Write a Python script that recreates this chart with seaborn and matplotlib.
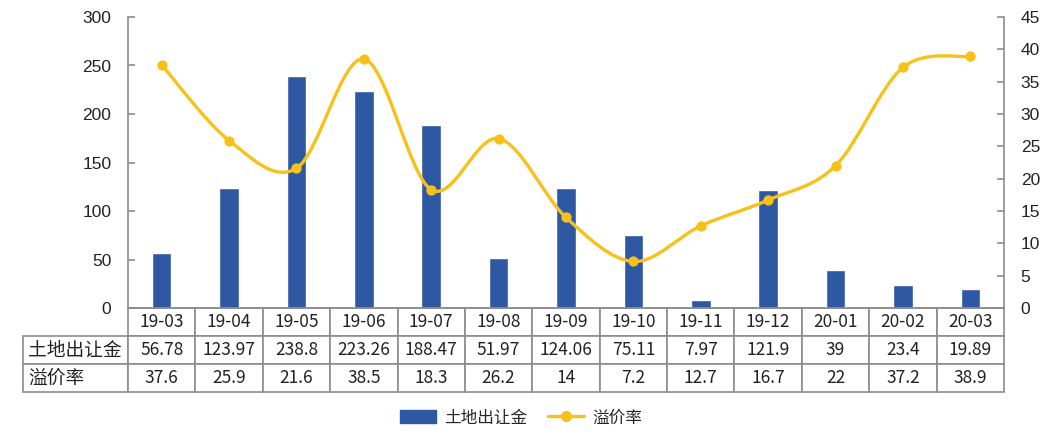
import numpy as np
import matplotlib
matplotlib.use('Agg')
import matplotlib.pyplot as plt
from matplotlib.path import Path
from matplotlib.patches import PathPatch, Patch
from matplotlib.lines import Line2D
from matplotlib.table import Table
import seaborn as sns

# data
months = ['19-03', '19-04', '19-05', '19-06', '19-07', '19-08', '19-09',
          '19-10', '19-11', '19-12', '20-01', '20-02', '20-03']
land_fee = [56.78, 123.97, 238.8, 223.26, 188.47, 51.97, 124.06,
            75.11, 7.97, 121.9, 39, 23.4, 19.89]
premium = [37.6, 25.9, 21.6, 38.5, 18.3, 26.2, 14, 7.2, 12.7, 16.7, 22, 37.2, 38.9]
row_names = ['土地出让金', '溢价率']

BLUE = '#2F58A3'
YELLOW = '#F7C11A'
GRAY = '#8C8C8C'
CJK = ['Noto Sans CJK SC', 'DejaVu Sans']

sns.set_style('white')
plt.rcParams['font.family'] = ['Liberation Sans', 'Noto Sans CJK SC']

fig = plt.figure(figsize=(10.47, 4.36), dpi=100)
W, H = 1047, 436
ax = fig.add_axes([128 / W, 1 - 308 / H, 876 / W, 291 / H])

# bars on the left axis
sns.barplot(x=months, y=land_fee, ax=ax, color=BLUE, saturation=1, width=0.29)
ax.set_xlim(-0.5, len(months) - 0.5)
ax.set_ylim(0, 300)
ax.set_yticks(range(0, 301, 50))
ax.set_xticks([])
ax.set_xticks(np.arange(0.5, len(months) - 1, 1), minor=True)
ax.set_xlabel('')
ax.set_ylabel('')
ax.tick_params(axis='x', which='minor', direction='in', length=4, color=GRAY, width=1.2)
ax.tick_params(axis='y', direction='in', length=5, color=GRAY, width=1.2,
               labelsize=12.5, pad=12, labelcolor='#222222')

# premium rate on the right axis, smoothed like the original
ax2 = ax.twinx()
ax2.set_ylim(0, 45)
ax2.set_yticks(range(0, 46, 5))
ax2.tick_params(axis='y', direction='in', length=5, color=GRAY, width=1.2,
                labelsize=12.5, pad=12, labelcolor='#222222')

xs = np.arange(len(premium), dtype=float)
ys = np.array(premium, dtype=float)
verts = [(xs[0], ys[0])]
codes = [Path.MOVETO]
n = len(xs)
for i in range(n - 1):
    i0 = max(i - 1, 0)
    i3 = min(i + 2, n - 1)
    c1 = (xs[i] + (xs[i + 1] - xs[i0]) / 6, ys[i] + (ys[i + 1] - ys[i0]) / 6)
    c2 = (xs[i + 1] - (xs[i3] - xs[i]) / 6, ys[i + 1] - (ys[i3] - ys[i]) / 6)
    verts += [c1, c2, (xs[i + 1], ys[i + 1])]
    codes += [Path.CURVE4] * 3
ax2.add_patch(PathPatch(Path(verts, codes), fill=False, edgecolor=YELLOW, lw=2.4,
                        capstyle='round', joinstyle='round', zorder=3))
sns.scatterplot(x=xs, y=ys, ax=ax2, color=YELLOW, s=55, linewidth=0, zorder=4, legend=False)

for a in (ax, ax2):
    for s in a.spines.values():
        s.set_color(GRAY)
        s.set_linewidth(1.2)
    a.spines['top'].set_visible(False)
ax.spines['right'].set_visible(False)
ax2.spines['left'].set_visible(False)
ax2.spines['bottom'].set_visible(False)

# data table under the axis
lab_w = 105 / 876
col_w = 1 / len(months)
tab_h = 84 / 291
tbl = Table(ax, bbox=[-lab_w, -tab_h, 1 + lab_w, tab_h])
rows = [[''] + months,
        [row_names[0]] + [f'{v:g}' for v in land_fee],
        [row_names[1]] + [f'{v:g}' for v in premium]]
for r, row in enumerate(rows):
    for c, txt in enumerate(row):
        cell = tbl.add_cell(r, c, width=lab_w if c == 0 else col_w, height=1 / 3,
                            text=txt, loc='left' if c == 0 else 'center',
                            edgecolor=GRAY)
        cell.set_linewidth(1.2)
        cell.PAD = 0.05
        cell.get_text().set_fontfamily(CJK)
        cell.get_text().set_color('#222222')
tbl[0, 0].visible_edges = ''
tbl.auto_set_font_size(False)
tbl.set_fontsize(12.5)
for r in (1, 2):
    tbl[r, 0].get_text().set_fontsize(13.5)
ax.add_table(tbl)

handles = [Patch(facecolor=BLUE, edgecolor=BLUE),
           Line2D([], [], color=YELLOW, lw=2.4, marker='o', ms=7)]
fig.legend(handles, row_names, loc='center', bbox_to_anchor=(521 / W, 1 - 418 / H),
           ncol=2, frameon=False, prop={'family': CJK, 'size': 12},
           handlelength=2.2, handleheight=0.8, columnspacing=1.2, handletextpad=0.5)

fig.savefig('out.png', dpi=100)
